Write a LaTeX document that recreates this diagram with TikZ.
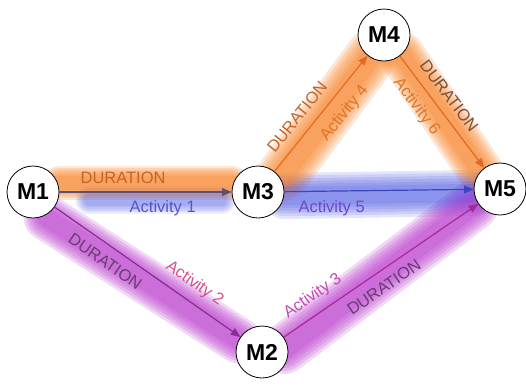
\documentclass[tikz,border=0pt]{standalone}
\usepackage{fontspec}
\setmainfont{Liberation Sans}
\usetikzlibrary{calc, arrows, backgrounds}

\begin{document}
\begin{tikzpicture}
  [x=1pt, y=-1pt,
    >=triangle 45,
    font=\fontsize{16.5}{18}\selectfont]

    \definecolor{tangerine}{RGB}{247,130,40}
    \definecolor{royal}{RGB}{70,80,225}
    \definecolor{orchid}{RGB}{185,60,205}
    \definecolor{plum}{RGB}{105,60,115}
    \definecolor{rust}{RGB}{195,100,40}
    \definecolor{salmon}{RGB}{215,80,140}
    \definecolor{periwinkle}{RGB}{85,85,200}

  \tikzset{
    milestone/.style={
      circle,
      draw=black, thick, fill=white,
      minimum size=52pt, inner sep=0pt,
      font=\fontsize{23}{25}\selectfont\bfseries,
    },
    activity/.style={->, draw, line width=1.2pt},
    tag/.style={inner sep=2pt},
    glow/.style={line cap=round, opacity=0.2, line width=#1},
  }

  \useasboundingbox (0,0) rectangle (526,389);

  \node[milestone] (m1) at (33,192) {M1};
  \node[milestone] (m3) at (258,192) {M3};
  \node[milestone] (m4) at (384,35) {M4};
  \node[milestone] (m5) at (500,189) {M5};
  \node[milestone] (m2) at (262,352) {M2};

  % blurred halos behind the arrows
  \begin{scope}[on background layer]
    \foreach \f in {1.0,0.88,0.76,0.64,0.52,0.4} {
      \draw[glow=28*\f pt, royal, opacity=0.1] ($(m1.east)+(30,8)$) -- ($(m3.west)+(-10,8)$);
      \draw[glow=34*\f pt, tangerine] ($(m1.east)+(0,-9)$) -- ($(m3.west)+(0,-9)$);
      \draw[glow=46*\f pt, royal, opacity=0.15] ($(m3.east)+(0,4)$) -- ($(m5.west)+(0,4)$);
      \draw[glow=46*\f pt, orchid] ($(m1.south east)+(-5,7)$) -- ($(m2.north west)+(-5,7)$);
      \draw[glow=50*\f pt, orchid] ($(m2.east)+(-4,-3)$) -- ($(m5.south west)+(-8,-2)$);
      \draw[glow=52*\f pt, tangerine] ($(m3.north east)+(6,2)$) -- ($(m4.south west)+(6,2)$);
      \draw[glow=46*\f pt, tangerine] ($(m4.south east)+(-1,1)$) -- ($(m5.north west)+(-1,1)$);
    }
  \end{scope}

  \draw[activity, draw={rgb,255:red,90;green,80;blue,115}] (m1) --
    node[tag, above=6pt, pos=0.37, text=rust] {DURATION}
    node[tag, below=6pt, pos=0.6, text=periwinkle] {Activity 1} (m3);

  \draw[activity, draw=royal!85!black] (m3) --
    node[tag, below=7pt, pos=0.25, text={rgb,255:red,110;green,70;blue,205}] {Activity 5} (m5);

  \draw[activity, draw={rgb,255:red,135;green,45;blue,145}] (m1) --
    node[tag, sloped, below=7pt, pos=0.32, text=plum] {DURATION}
    node[tag, sloped, above=7pt, pos=0.7, text=salmon] {Activity 2} (m2);

  \draw[activity, draw={rgb,255:red,170;green,40;blue,150}] (m2) --
    node[tag, sloped, above=7pt, pos=0.2, text={rgb,255:red,200;green,70;blue,180}] {Activity 3}
    node[tag, sloped, below=7pt, pos=0.47, text=plum] {DURATION} (m5);

  \draw[activity, draw={rgb,255:red,230;green,105;blue,30}] (m3) --
    node[tag, sloped, above=8pt, pos=0.38, text=rust] {DURATION}
    node[tag, sloped, below=8pt, pos=0.6, text=tangerine!90!black] {Activity 4} (m4);

  \draw[activity, draw={rgb,255:red,225;green,105;blue,30}] (m4) --
    node[tag, sloped, above=7pt, pos=0.44, text={rgb,255:red,120;green,80;blue,60}] {DURATION}
    node[tag, sloped, below=7pt, pos=0.36, text=tangerine!90!black] {Activity 6} (m5);
\end{tikzpicture}
\end{document}
